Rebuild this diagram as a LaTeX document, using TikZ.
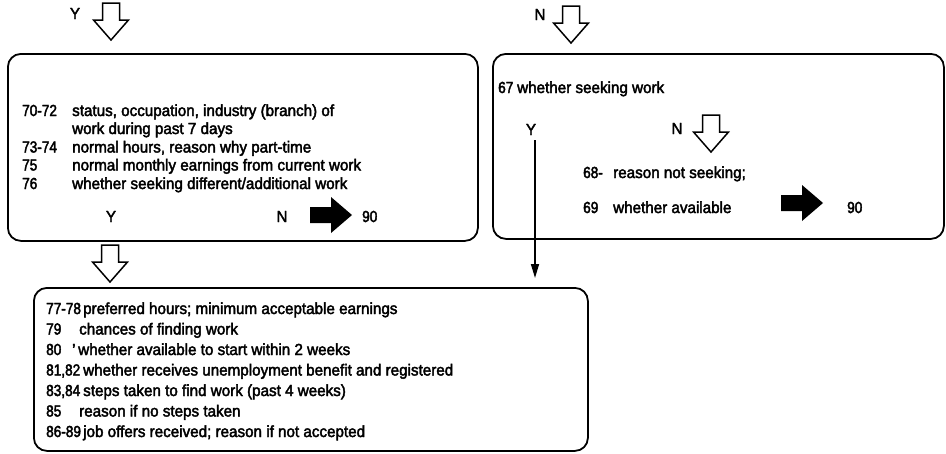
\documentclass[tikz,border=0pt]{standalone}
\usepackage{fontspec}
\setmainfont{Liberation Sans}[FakeStretch=0.95, FakeBold=2.5]
\newfontfamily\numfam{Liberation Sans}[FakeStretch=0.85, FakeBold=2.5]
\usetikzlibrary{arrows.meta}
\newcommand\tf{\fontsize{16}{19}\selectfont}
\newcommand\nf{\numfam\fontsize{16}{19}\selectfont}
\tikzset{
  box/.style={draw, line width=1.8pt, rounded corners=13pt, inner sep=0pt, anchor=north west},
  txt/.style={anchor=base west, inner sep=0pt, font=\tf},
  num/.style={anchor=base west, inner sep=0pt, font=\nf},
  lbl/.style={anchor=base, inner sep=0pt, font=\tf},
  hollowdown/.pic={\draw[line width=1.5pt, fill=white, line join=miter]
    (-8.5,-37) -- (8.5,-37) -- (8.5,-20) -- (17.5,-20) -- (0,0) -- (-17.5,-20) -- (-8.5,-20) -- cycle;},
  blackright/.pic={\fill[black]
    (-42,-8) -- (-21,-8) -- (-21,-18) -- (0,0) -- (-21,18) -- (-21,8) -- (-42,8) -- cycle;}
}
\begin{document}
\begin{tikzpicture}[x=1pt,y=-1pt]
\useasboundingbox (0,0) rectangle (946,453);
% boxes
\node[box, minimum width=470pt, minimum height=187pt] (b1) at (7,53) {};
\node[box, minimum width=451pt, minimum height=185pt] (b2) at (492,53) {};
\node[box, minimum width=554pt, minimum height=163pt] (b3) at (33,287) {};

% top labels and hollow arrows
\node[lbl] (ytop) at (75,19) {Y};
\pic at (111,40) {hollowdown};
\node[lbl] (ntop) at (540,20) {N};
\pic at (571,43) {hollowdown};

% box 1 content
\node[num] (n70) at (22,116) {70-72};
\node[txt] (t70) at (72,116) {status, occupation, industry (branch) of};
\node[txt] (t70b) at (72,134) {work during past 7 days};
\node[num] (n73) at (22,152.5) {73-74};
\node[txt] (t73) at (72,152.5) {normal hours, reason why part-time};
\node[num] (n75) at (22,170.5) {75};
\node[txt] (t75) at (72,170.5) {normal monthly earnings from current work};
\node[num] (n76) at (22,189) {76};
\node[txt] (t76) at (72,189) {whether seeking different/additional work};
\node[lbl] (y1) at (111,222) {Y};
\node[lbl] (n1) at (282,222) {N};
\pic at (352,215) {blackright};
\node[num] (g1) at (362,222) {90};

% arrow from box 1 to box 3
\pic at (110,282) {hollowdown};

% box 2 content
\node[num] (n67) at (498,93) {67};
\node[txt] (t67) at (517,93) {whether seeking work};
\node[lbl] (y2) at (531,135) {Y};
\node[lbl] (n2) at (677,134) {N};
\pic at (711,152) {hollowdown};
\node[num] (n68) at (583,178) {68-};
\node[txt] (t68) at (613,178) {reason not seeking;};
\node[num] (n69) at (583,213) {69};
\node[txt] (t69) at (613,213) {whether available};
\pic at (823,203) {blackright};
\node[num] (g2) at (847,213) {90};
\coordinate (ys) at (535,140);
\draw[line width=1.6pt, -{Triangle[length=14pt,width=8pt]}, shorten >=9pt] (ys) -- (ys |- b3.north);

% box 3 content
\node[num] (n77) at (46,314) {77-78};
\node[txt] (t77) at (83,314) {preferred hours; minimum acceptable earnings};
\node[num] (n79) at (46,334.5) {79};
\node[txt] (t79) at (79,334.5) {chances of finding work};
\node[num] (n80) at (46,355) {80};
\node[txt] (t80) at (72,355) {'\,whether available to start within 2 weeks};
\node[num] (n81) at (46,375.5) {81,82};
\node[txt] (t81) at (83,375.5) {whether receives unemployment benefit and registered};
\node[num] (n83) at (46,396) {83,84};
\node[txt] (t83) at (83,396) {steps taken to find work (past 4 weeks)};
\node[num] (n85) at (46,416.5) {85};
\node[txt] (t85) at (79,416.5) {reason if no steps taken};
\node[num] (n86) at (46,437) {86-89};
\node[txt] (t86) at (83,437) {job offers received; reason if not accepted};
\end{tikzpicture}
\end{document}
